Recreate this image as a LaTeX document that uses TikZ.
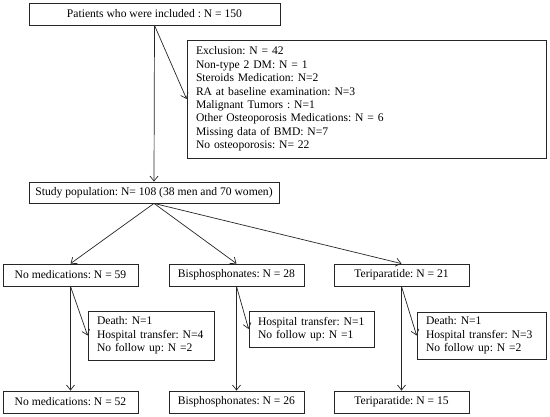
\documentclass[tikz,border=0pt]{standalone}
\usepackage{fontspec}
\setmainfont{Liberation Serif}
\usetikzlibrary{arrows.meta}
\tikzset{
  bx/.style={draw=black!85, line width=0.8pt, inner sep=0pt, font=\fontsize{11.6}{13.4}\selectfont\frenchspacing},
  lbx/.style={bx, align=left, inner xsep=9pt},
  arr/.style={draw=black!85, line width=0.7pt, -{Straight Barb[length=5pt,width=8pt]}}
}
\begin{document}
\begin{tikzpicture}[x=1pt,y=-1pt]
\path[fill=white] (0,0) rectangle (550,417);
\useasboundingbox (0,0) rectangle (550,417);

\node[bx, minimum width=251pt, minimum height=22pt] (top) at (154.5,14) {Patients who were included : N = 150};
\node[lbx, text width=341pt, minimum height=118pt] (excl) at (366.5,99) {Exclusion: N = 42\\
Non-type 2 DM: N = 1\\
Steroids Medication: N=2\\
RA at baseline examination: N=3\\
Malignant Tumors : N=1\\
Other Osteoporosis Medications: N = 6\\
Missing data of BMD: N=7\\
No osteoporosis: N= 22};
\node[bx, minimum width=250pt, minimum height=21pt] (study) at (154,192.5) {Study population: N= 108 (38 men and 70 women)};

\node[bx, minimum width=135pt, minimum height=22pt] (med1) at (70.5,275) {No medications: N = 59};
\node[bx, minimum width=135pt, minimum height=22pt] (med2) at (236.5,275) {Bisphosphonates: N = 28};
\node[bx, minimum width=135pt, minimum height=22pt] (med3) at (401.5,275) {Teriparatide: N = 21};

\node[lbx, text width=108pt, minimum height=49pt] (drop1) at (151,335.5) {Death: N=1\\
Hospital transfer: N=4\\
No follow up: N =2};
\node[lbx, text width=107pt, minimum height=36pt] (drop2) at (311.5,329) {Hospital transfer: N=1\\
No follow up: N =1};
\node[lbx, text width=111pt, minimum height=47pt] (drop3) at (481.5,335.5) {Death: N=1\\
Hospital transfer: N=3\\
No follow up: N =2};

\node[bx, minimum width=135pt, minimum height=22pt] (fin1) at (70.5,402) {No medications: N = 52};
\node[bx, minimum width=135pt, minimum height=22pt] (fin2) at (236.5,402) {Bisphosphonates: N = 26};
\node[bx, minimum width=135pt, minimum height=22pt] (fin3) at (401.5,402) {Teriparatide: N = 15};

\draw[arr] (top.south) -- (study.north);
\draw[arr] (top.south) -- (excl.west);
\draw[arr] (study.south) -- (med1.north);
\draw[arr] (study.south) -- (med2.north);
\draw[arr] (study.south) -- (med3.north);
\draw[arr] (med1.south) -- (fin1.north);
\draw[arr] (med1.south) -- (drop1.west);
\draw[arr] (med2.south) -- (fin2.north);
\draw[arr] (med2.south) -- (drop2.west);
\draw[arr] (med3.south) -- (fin3.north);
\draw[arr] (med3.south) -- (drop3.west);
\end{tikzpicture}
\end{document}
